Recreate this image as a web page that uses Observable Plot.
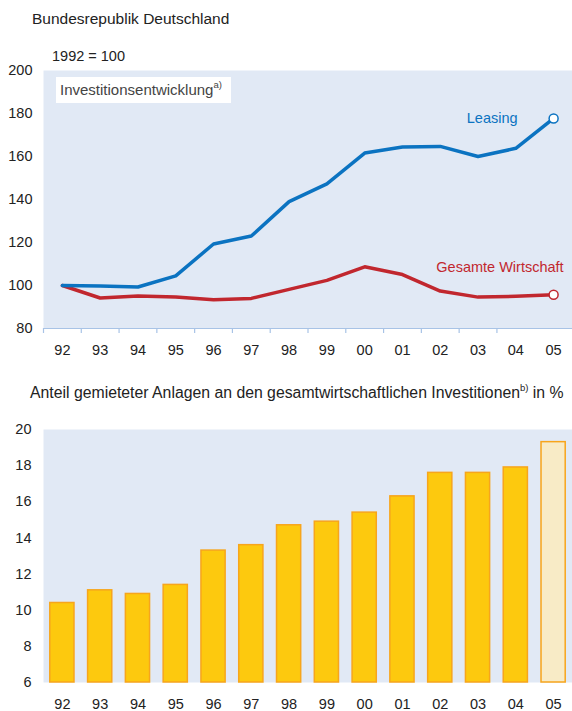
<!DOCTYPE html>
<html>
<head>
<meta charset="utf-8">
<script src="https://cdn.jsdelivr.net/npm/d3@7"></script>
<script src="https://cdn.jsdelivr.net/npm/@observablehq/plot@0.6"></script>
<style>
  body { margin: 0; background: #fff; font-family: "Liberation Sans", Arial, sans-serif; color: #222; }
  #wrap { position: relative; width: 572px; height: 711px; overflow: hidden; }
  .abs { position: absolute; white-space: nowrap; }
  .t { font-size: 15.5px; color: #222; }
  .s { font-size: 14.5px; color: #222; }
  sup { font-size: 9.5px; line-height: 0; position: relative; top: -1px; vertical-align: super; }
  #inset { left: 56px; top: 77px; width: 175px; height: 26px; background: #fff; font-size: 15px; color: #444; }
  #inset span { position: absolute; left: 4px; top: 4px; }
</style>
</head>
<body>
<div id="wrap">
  <div class="abs t" style="left:32px; top:10px;">Bundesrepublik Deutschland</div>
  <div class="abs s" style="left:52px; top:48px;">1992 = 100</div>
  <div class="abs" id="chart1" style="left:0; top:60px;"></div>
  <div class="abs" id="inset"><span>Investitionsentwicklung<sup>a)</sup></span></div>
  <div class="abs t" style="left:30px; top:384px; font-size:15.8px;">Anteil gemieteter Anlagen an den gesamtwirtschaftlichen Investitionen<sup>b)</sup> in %</div>
  <div class="abs" id="chart2" style="left:0; top:419px;"></div>
</div>
<script>
// ---- Data ----
const years = ["92","93","94","95","96","97","98","99","00","01","02","03","04","05"];
const leasing = [100, 99.8, 99.3, 104.5, 119.3, 123, 139, 147.3, 161.6, 164.4, 164.7, 160, 163.8, 177.7];
const gesamt = [100, 94.2, 95.1, 94.6, 93.4, 94, 98.2, 102.4, 108.7, 105.1, 97.4, 94.6, 95, 95.7];
const anteil = [10.4, 11.1, 10.9, 11.4, 13.3, 13.6, 14.7, 14.9, 15.4, 16.3, 17.6, 17.6, 17.9, 19.3];
const topTicks = [80, 100, 120, 140, 160, 180, 200];
const bottomTicks = [6, 8, 10, 12, 14, 16, 18, 20];

const bg = "#e1e9f5";
const blue = "#0b73c1";
const red = "#c1272e";
const axisBlue = "#a8c3e6";
const idx = years.map((_, i) => i);
const bounds = idx.slice(0, -1).map(i => i - 0.5);
const xDomain = [-0.5, years.length - 0.5];
const last = years.length - 1;

const lData = idx.map(i => ({i, v: leasing[i]}));
const gData = idx.map(i => ({i, v: gesamt[i]}));

const font = "'Liberation Sans', Arial, sans-serif";

const chart1 = Plot.plot({
  width: 572, height: 305,
  marginTop: 10, marginBottom: 37, marginLeft: 43, marginRight: 0,
  style: {fontFamily: font, fontSize: "14px", color: "#222", background: "transparent"},
  x: {domain: xDomain, axis: null},
  y: {domain: [80, 200], axis: null},
  marks: [
    Plot.frame({fill: bg, stroke: null}),
    Plot.ruleY([80], {stroke: axisBlue, strokeWidth: 1.2}),
    Plot.axisX({ticks: bounds, tickSize: 5, tickFormat: () => "", label: null, stroke: axisBlue, strokeWidth: 1.2}),
    Plot.axisX({ticks: idx, tickSize: 0, tickPadding: 16, tickFormat: i => years[i], label: null, fontSize: 14.5}),
    Plot.axisY({ticks: topTicks, tickSize: 0, tickPadding: 11, label: null, fontSize: 14.5}),
    Plot.line(gData, {x: "i", y: "v", stroke: red, strokeWidth: 3.5}),
    Plot.line(lData, {x: "i", y: "v", stroke: blue, strokeWidth: 3.5}),
    Plot.dot([gData[last]], {x: "i", y: "v", r: 4.5, fill: "#fff", stroke: red, strokeWidth: 1.5}),
    Plot.dot([lData[last]], {x: "i", y: "v", r: 4.5, fill: "#fff", stroke: blue, strokeWidth: 1.5}),
    Plot.text([lData[last]], {x: "i", y: "v", text: () => "Leasing", textAnchor: "end", dx: -36, fill: blue, fontSize: 14.5}),
    Plot.text([gData[last]], {x: "i", y: "v", text: () => "Gesamte Wirtschaft", textAnchor: "end", dx: 10, dy: -27, fill: red, fontSize: 14.5})
  ]
});
document.getElementById("chart1").appendChild(chart1);

const yMin = bottomTicks[0];
const bars = idx.map(i => ({i, v: anteil[i], est: i === last}));
const chart2 = Plot.plot({
  width: 572, height: 292,
  marginTop: 10, marginBottom: 29, marginLeft: 43, marginRight: 0,
  style: {fontFamily: font, fontSize: "14px", color: "#222", background: "transparent"},
  x: {domain: xDomain, axis: null},
  y: {domain: [yMin, 20], axis: null},
  marks: [
    Plot.frame({fill: bg, stroke: null}),
    Plot.rect(bars, {x1: d => d.i - 0.32, x2: d => d.i + 0.32, y1: () => yMin, y2: "v",
      fill: d => d.est ? "#f8ebc6" : "#fdc90e", stroke: "#f7a51c", strokeWidth: 1.5}),
    Plot.axisX({ticks: idx, tickSize: 0, tickPadding: 16, tickFormat: i => years[i], label: null, fontSize: 14.5}),
    Plot.axisY({ticks: bottomTicks, tickSize: 0, tickPadding: 12, label: null, fontSize: 14.5})
  ]
});
document.getElementById("chart2").appendChild(chart2);
</script>
</body>
</html>
